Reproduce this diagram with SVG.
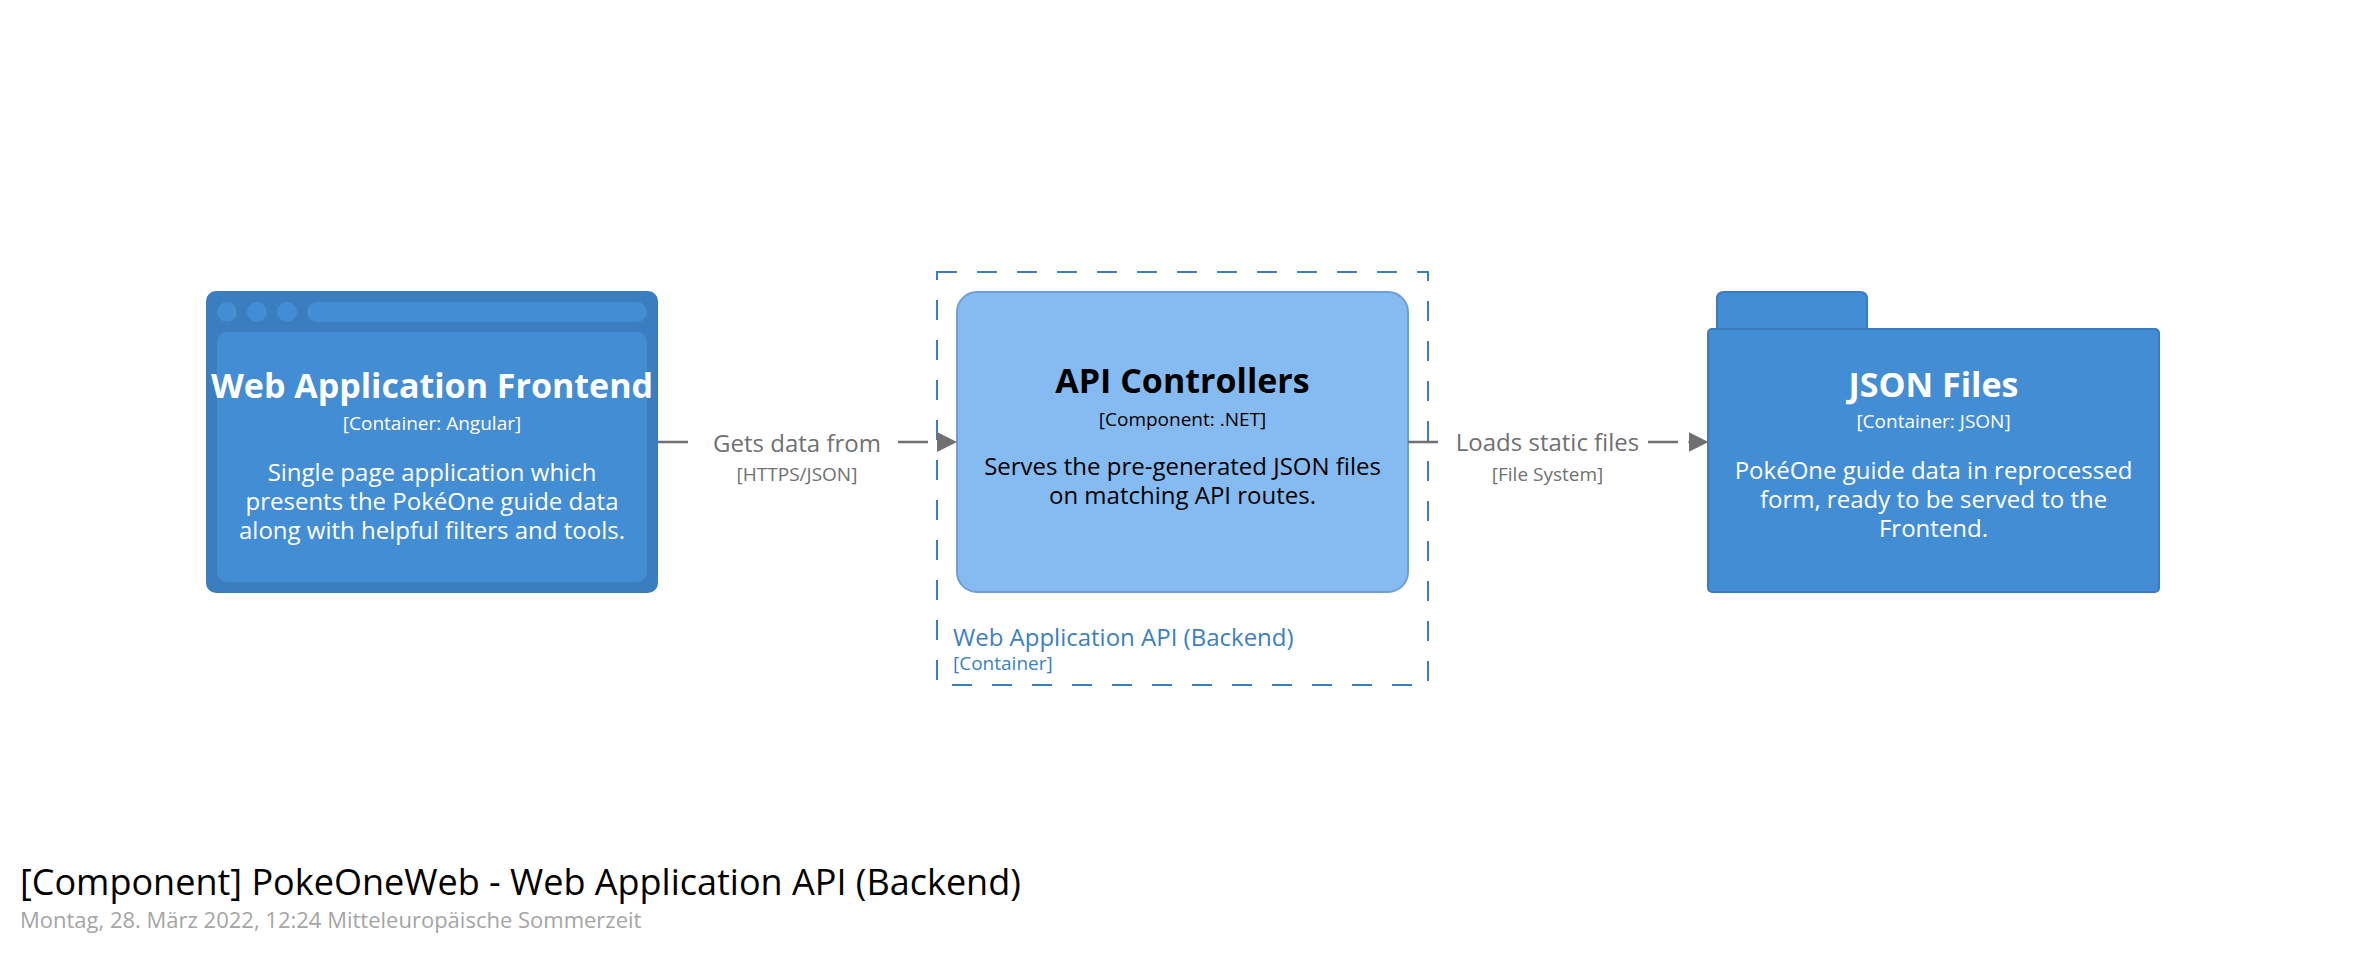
<svg xmlns="http://www.w3.org/2000/svg" width="2366" height="958" viewBox="0 0 2366 958">
<style>
text{font-family:"Open Sans","Noto Sans","Liberation Sans",sans-serif;text-anchor:middle}
.name{font-size:34px;font-weight:bold}
.meta{font-size:19px}
.desc{font-size:24px}
.w{fill:#ffffff}
.k{fill:#000000}
.rel{stroke:#707070;stroke-width:2.5;stroke-dasharray:30 10;fill:none}
.rl{fill:#707070;font-size:24px}
.rm{fill:#707070;font-size:19px}
.lbg{fill:#ffffff}
</style>
<defs>
<marker id="arrow" markerUnits="userSpaceOnUse" markerWidth="20" markerHeight="20" refX="0" refY="10" orient="auto" viewBox="0 0 20 20">
<path d="M0,0 L20,10 L0,20 z" fill="#707070"/>
</marker>
</defs>
<rect width="2366" height="958" fill="#ffffff"/>

<g id="api-boundary">
<rect x="937" y="272" width="491" height="413" fill="none" stroke="#3c7fc0" stroke-width="2" stroke-dasharray="20 20"/>
<text x="953" y="646" style="text-anchor:start;font-size:24px;fill:#3c7fc0">Web Application API (Backend)</text>
<text x="953" y="670" style="text-anchor:start;font-size:19px;fill:#3c7fc0">[Container]</text>
</g>

<g id="frontend">
<rect x="206" y="291" width="452" height="302" rx="10" fill="#3b7ebf"/>
<circle cx="227" cy="312" r="10" fill="#438dd5"/>
<circle cx="257" cy="312" r="10" fill="#438dd5"/>
<circle cx="287" cy="312" r="10" fill="#438dd5"/>
<rect x="307" y="302" width="340" height="20" rx="10" fill="#438dd5"/>
<rect x="217" y="332" width="430" height="250" rx="10" fill="#438dd5"/>
<text class="name w" x="432" y="398">Web Application Frontend</text>
<text class="meta w" x="432" y="430">[Container: Angular]</text>
<text class="desc w" x="432" y="481">Single page application which</text>
<text class="desc w" x="432" y="510">presents the PokéOne guide data</text>
<text class="desc w" x="432" y="539">along with helpful filters and tools.</text>
</g>

<g id="api-controllers">
<rect x="957" y="292" width="451" height="300" rx="20" fill="#85bbf0" stroke="#6d9fd6" stroke-width="2"/>
<text class="name k" x="1182.5" y="393">API Controllers</text>
<text class="meta k" x="1182.5" y="426">[Component: .NET]</text>
<text class="desc k" x="1182.5" y="475">Serves the pre-generated JSON files</text>
<text class="desc k" x="1182.5" y="504">on matching API routes.</text>
</g>

<g id="json-files">
<path d="M1717,329 V299 Q1717,292 1724,292 H1860 Q1867,292 1867,299 V329 Z" fill="#438dd5" stroke="#3a7cbf" stroke-width="2"/>
<rect x="1708" y="329" width="451" height="263" rx="4" fill="#438dd5" stroke="#3a7cbf" stroke-width="2"/>
<text class="name w" x="1933.5" y="397">JSON Files</text>
<text class="meta w" x="1933.5" y="428">[Container: JSON]</text>
<text class="desc w" x="1933.5" y="479">PokéOne guide data in reprocessed</text>
<text class="desc w" x="1933.5" y="508">form, ready to be served to the</text>
<text class="desc w" x="1933.5" y="537">Frontend.</text>
</g>

<g id="connectors">
<g id="rel-frontend-api">
<line class="rel" x1="658" y1="442" x2="937" y2="442" marker-end="url(#arrow)"/>
<rect class="lbg" x="690" y="420" width="206" height="70"/>
<text class="rl" x="797" y="452">Gets data from</text>
<text class="rm" x="797" y="481">[HTTPS/JSON]</text>
</g>
<g id="rel-api-json">
<line class="rel" x1="1408" y1="442" x2="1688.5" y2="442" marker-end="url(#arrow)"/>
<rect class="lbg" x="1440" y="420" width="206" height="70"/>
<text class="rl" x="1547.5" y="451">Loads static files</text>
<text class="rm" x="1547.5" y="481">[File System]</text>
</g>
</g>

<g id="title">
<text x="20" y="895" style="text-anchor:start;font-size:36px;fill:#000000">[Component] PokeOneWeb - Web Application API (Backend)</text>
<text x="20" y="928" style="text-anchor:start;font-size:22px;fill:#a5a5a5">Montag, 28. März 2022, 12:24 Mitteleuropäische Sommerzeit</text>
</g>
</svg>
